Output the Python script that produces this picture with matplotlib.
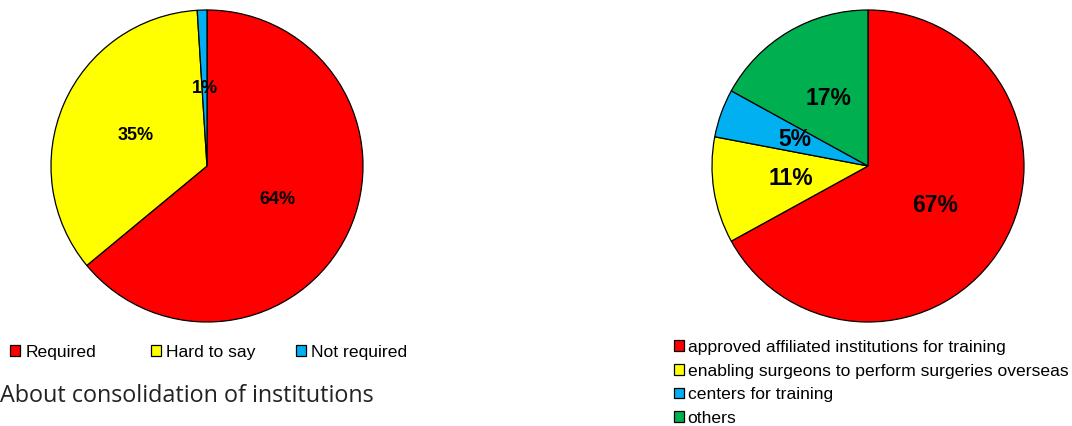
import matplotlib
matplotlib.use("Agg")
import matplotlib.pyplot as plt
from matplotlib.patches import Patch

# Data
consol_labels = ["Required", "Hard to say", "Not required"]
consol_values = [64, 35, 1]
consol_colors = ["#FF0000", "#FFFF00", "#00B0F0"]

train_labels = ["approved affiliated institutions for training",
                "enabling surgeons to perform surgeries overseas",
                "centers for training",
                "others"]
train_values = [67, 11, 5, 17]
train_colors = ["#FF0000", "#FFFF00", "#00B0F0", "#00B050"]

title_text = "About consolidation of institutions"

W, H = 1072, 426
DPI = 100
plt.rcParams["font.family"] = ["Liberation Sans", "DejaVu Sans"]

fig = plt.figure(figsize=(W / DPI, H / DPI), dpi=DPI)


def px_axes(left, top, w, h):
    return fig.add_axes([left / W, 1 - (top + h) / H, w / W, h / H])


def draw_pie(ax, values, colors, fs):
    ax.pie(values, colors=colors, startangle=90, counterclock=False,
           autopct=lambda p: f"{p:.0f}%", pctdistance=0.5,
           wedgeprops=dict(edgecolor="black", linewidth=0.9),
           textprops=dict(fontsize=fs, fontweight="bold", color="black"))
    ax.set_xlim(-1.0, 1.0)
    ax.set_ylim(-1.0, 1.0)
    ax.set_aspect("equal")
    ax.axis("off")


ax1 = px_axes(51, 10, 312, 312)
draw_pie(ax1, consol_values, consol_colors, 13)

ax2 = px_axes(712, 10, 312, 312)
draw_pie(ax2, train_values, train_colors, 16.5)

LEG_FS = 12.6
key = dict(frameon=False, fontsize=LEG_FS, handlelength=0.58, handleheight=0.58,
           borderpad=0, borderaxespad=0)

# Left legend: one fixed-width column per entry
for i, (lab, col) in enumerate(zip(consol_labels, consol_colors)):
    x0 = [10, 151, 296][i]
    fig.legend([Patch(facecolor=col, edgecolor="black", linewidth=0.9)], [lab],
               loc="center left", bbox_to_anchor=(x0 / W, 1 - 352 / H),
               handletextpad=0.3, **key)

handles2 = [Patch(facecolor=c, edgecolor="black", linewidth=0.9) for c in train_colors]
fig.legend(handles2, train_labels, loc="upper left",
           bbox_to_anchor=(674 / W, 1 - 340 / H), ncol=1,
           handletextpad=0.2, labelspacing=0.49, **key)

fig.text(0 / W, 1 - 396 / H, title_text, fontsize=16.8, color="#222222",
         family=["Open Sans", "DejaVu Sans"], va="center", ha="left")

fig.savefig("out.png", dpi=DPI)
